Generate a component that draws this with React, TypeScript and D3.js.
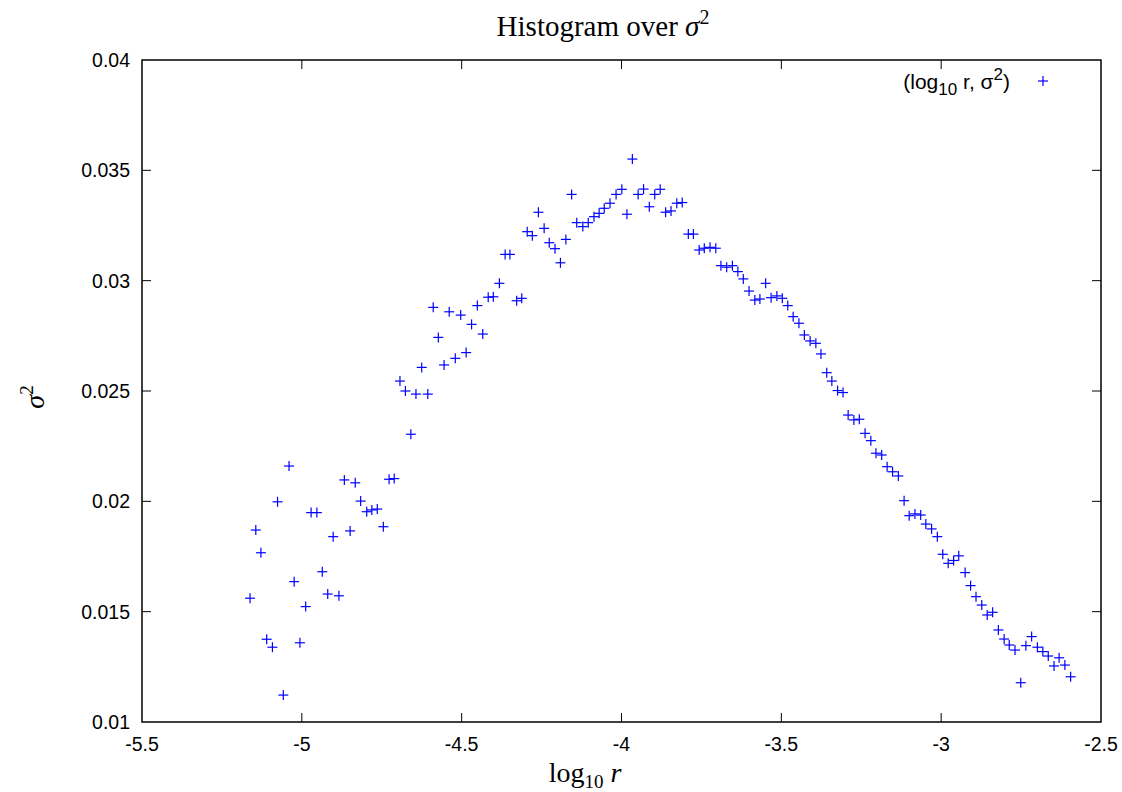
import React, { useEffect, useRef } from "react";
import * as d3 from "d3";

const logR: number[] = [
  -5.162, -5.144, -5.128, -5.110, -5.092, -5.076, -5.058, -5.040, -5.024, -5.006,
  -4.988, -4.971, -4.953, -4.936, -4.919, -4.902, -4.884, -4.867, -4.849, -4.833,
  -4.816, -4.797, -4.781, -4.764, -4.745, -4.727, -4.711, -4.693, -4.676, -4.659,
  -4.643, -4.625, -4.606, -4.589, -4.573, -4.555, -4.539, -4.520, -4.503, -4.486,
  -4.469, -4.451, -4.434, -4.417, -4.401, -4.382, -4.364, -4.349, -4.328, -4.312,
  -4.295, -4.279, -4.260, -4.242, -4.226, -4.208, -4.191, -4.174, -4.156, -4.140,
  -4.121, -4.104, -4.086, -4.070, -4.054, -4.036, -4.017, -3.999, -3.983, -3.966,
  -3.948, -3.931, -3.913, -3.896, -3.879, -3.862, -3.845, -3.827, -3.810, -3.791,
  -3.775, -3.757, -3.741, -3.723, -3.705, -3.689, -3.671, -3.653, -3.636, -3.619,
  -3.601, -3.583, -3.567, -3.549, -3.532, -3.514, -3.497, -3.480, -3.463, -3.445,
  -3.428, -3.410, -3.392, -3.376, -3.358, -3.342, -3.324, -3.307, -3.291, -3.273,
  -3.256, -3.238, -3.220, -3.204, -3.186, -3.169, -3.152, -3.134, -3.116, -3.100,
  -3.082, -3.064, -3.048, -3.030, -3.012, -2.995, -2.978, -2.961, -2.945, -2.925,
  -2.908, -2.891, -2.873, -2.856, -2.839, -2.821, -2.803, -2.787, -2.769, -2.751,
  -2.735, -2.717, -2.699, -2.682, -2.665, -2.647, -2.631, -2.613, -2.595,
];

const sigma2: number[] = [
  0.01561, 0.01870, 0.01767, 0.01375, 0.01339, 0.01998, 0.01122, 0.02160, 0.01636, 0.01359,
  0.01523, 0.01949, 0.01949, 0.01681, 0.01580, 0.01840, 0.01572, 0.02097, 0.01866, 0.02084,
  0.02001, 0.01953, 0.01961, 0.01965, 0.01885, 0.02100, 0.02103, 0.02545, 0.02500, 0.02304,
  0.02486, 0.02607, 0.02486, 0.02879, 0.02743, 0.02618, 0.02859, 0.02648, 0.02844, 0.02674,
  0.02802, 0.02887, 0.02758, 0.02925, 0.02927, 0.02988, 0.03119, 0.03119, 0.02909, 0.02920,
  0.03222, 0.03204, 0.03310, 0.03237, 0.03172, 0.03145, 0.03081, 0.03187, 0.03391, 0.03263,
  0.03245, 0.03263, 0.03290, 0.03305, 0.03328, 0.03351, 0.03391, 0.03414, 0.03301, 0.03551,
  0.03391, 0.03415, 0.03335, 0.03391, 0.03414, 0.03310, 0.03316, 0.03351, 0.03354, 0.03211,
  0.03211, 0.03139, 0.03147, 0.03151, 0.03147, 0.03068, 0.03061, 0.03068, 0.03041, 0.03008,
  0.02953, 0.02912, 0.02917, 0.02988, 0.02923, 0.02931, 0.02920, 0.02887, 0.02837, 0.02807,
  0.02754, 0.02727, 0.02716, 0.02668, 0.02583, 0.02545, 0.02502, 0.02493, 0.02391, 0.02369,
  0.02372, 0.02308, 0.02275, 0.02218, 0.02210, 0.02157, 0.02134, 0.02115, 0.02003, 0.01935,
  0.01943, 0.01938, 0.01897, 0.01875, 0.01840, 0.01760, 0.01719, 0.01732, 0.01753, 0.01677,
  0.01618, 0.01568, 0.01530, 0.01485, 0.01497, 0.01417, 0.01376, 0.01349, 0.01326, 0.01178,
  0.01346, 0.01387, 0.01339, 0.01319, 0.01299, 0.01254, 0.01291, 0.01258, 0.01205,
];

const xTicks: number[] = [-5.5, -5, -4.5, -4, -3.5, -3, -2.5];
const yTicks: number[] = [0.01, 0.015, 0.02, 0.025, 0.03, 0.035, 0.04];
const xTickLabels: string[] = ["-5.5", "-5", "-4.5", "-4", "-3.5", "-3", "-2.5"];
const yTickLabels: string[] = ["0.01", "0.015", "0.02", "0.025", "0.03", "0.035", "0.04"];

const W = 1122;
const H = 792;
const M = { left: 142, right: 1101, top: 60, bottom: 722 };

export default function App() {
  const ref = useRef<SVGSVGElement | null>(null);

  useEffect(() => {
    const svg = d3.select(ref.current);
    svg.selectAll("*").remove();

    const x = d3.scaleLinear().domain([-5.5, -2.5]).range([M.left, M.right]);
    const y = d3.scaleLinear().domain([0.01, 0.04]).range([M.bottom, M.top]);

    const sans = "'Liberation Sans', Arial, sans-serif";
    const serif = "'DejaVu Serif', 'Liberation Serif', serif";
    const tickLen = 9;

    const g = svg.append("g");

    xTicks.forEach((t, i) => {
      const px = x(t);
      if (i > 0 && i < xTicks.length - 1) {
        g.append("line").attr("x1", px).attr("x2", px).attr("y1", M.bottom).attr("y2", M.bottom - tickLen)
          .attr("stroke", "#000").attr("stroke-width", 1);
        g.append("line").attr("x1", px).attr("x2", px).attr("y1", M.top).attr("y2", M.top + tickLen)
          .attr("stroke", "#000").attr("stroke-width", 1);
      }
      g.append("text").attr("x", px).attr("y", M.bottom + 29).attr("text-anchor", "middle")
        .attr("font-family", sans).attr("font-size", 19.5).attr("fill", "#000").text(xTickLabels[i]);
    });
    yTicks.forEach((t, i) => {
      const py = y(t);
      if (i > 0 && i < yTicks.length - 1) {
        g.append("line").attr("x1", M.left).attr("x2", M.left + tickLen).attr("y1", py).attr("y2", py)
          .attr("stroke", "#000").attr("stroke-width", 1);
        g.append("line").attr("x1", M.right).attr("x2", M.right - tickLen).attr("y1", py).attr("y2", py)
          .attr("stroke", "#000").attr("stroke-width", 1);
      }
      g.append("text").attr("x", M.left - 12).attr("y", py + 7).attr("text-anchor", "end")
        .attr("font-family", sans).attr("font-size", 19.5).attr("fill", "#000").text(yTickLabels[i]);
    });

    g.append("rect").attr("x", M.left).attr("y", M.top).attr("width", M.right - M.left)
      .attr("height", M.bottom - M.top).attr("fill", "none").attr("stroke", "#000").attr("stroke-width", 1.5);

    const s = 5;
    const pts = g.append("g").attr("stroke", "#0000ff").attr("stroke-width", 1.2);
    logR.forEach((lr, i) => {
      const px = x(lr);
      const py = y(sigma2[i]);
      pts.append("line").attr("x1", px - s).attr("x2", px + s).attr("y1", py).attr("y2", py);
      pts.append("line").attr("x1", px).attr("x2", px).attr("y1", py - s).attr("y2", py + s);
    });

    // legend
    const lg = g.append("g");
    const lt = lg.append("text").attr("x", 1010).attr("y", 89).attr("text-anchor", "end")
      .attr("font-family", sans).attr("font-size", 21).attr("fill", "#000");
    lt.append("tspan").text("(log");
    lt.append("tspan").attr("font-size", 17).attr("dy", 6).text("10");
    lt.append("tspan").attr("dy", -6).text(" r, σ");
    lt.append("tspan").attr("font-size", 17).attr("dy", -9).text("2");
    lt.append("tspan").attr("dy", 9).text(")");
    const lx = 1043, ly = 81;
    lg.append("line").attr("x1", lx - s).attr("x2", lx + s).attr("y1", ly).attr("y2", ly)
      .attr("stroke", "#0000ff").attr("stroke-width", 1.2);
    lg.append("line").attr("x1", lx).attr("x2", lx).attr("y1", ly - s).attr("y2", ly + s)
      .attr("stroke", "#0000ff").attr("stroke-width", 1.2);

    // title
    const tt = g.append("text").attr("x", 603).attr("y", 36).attr("text-anchor", "middle")
      .attr("font-family", "'Liberation Serif', serif").attr("font-size", 29).attr("fill", "#000");
    tt.append("tspan").text("Histogram over ");
    tt.append("tspan").attr("font-style", "italic").text("σ");
    tt.append("tspan").attr("font-size", 20).attr("dy", -12).text("2");

    // x label
    const xl = g.append("text").attr("x", 585).attr("y", 782).attr("text-anchor", "middle")
      .attr("font-family", "'Liberation Serif', serif").attr("font-size", 28).attr("fill", "#000");
    xl.append("tspan").text("log");
    xl.append("tspan").attr("font-size", 19).attr("dy", 6).text("10");
    xl.append("tspan").attr("dy", -6).text(" ");
    xl.append("tspan").attr("font-style", "italic").text("r");

    // y label
    const yl = g.append("text").attr("transform", "translate(44,397) rotate(-90)").attr("text-anchor", "middle")
      .attr("font-family", "'Liberation Serif', serif").attr("font-size", 28).attr("fill", "#000");
    yl.append("tspan").attr("font-style", "italic").text("σ");
    yl.append("tspan").attr("font-size", 19).attr("dy", -11).text("2");
  }, []);

  return (
    <div style={{ position: "absolute", left: 0, top: 0 }}>
      <svg ref={ref} width={W} height={H} style={{ display: "block", background: "#fff" }} />
    </div>
  );
}
